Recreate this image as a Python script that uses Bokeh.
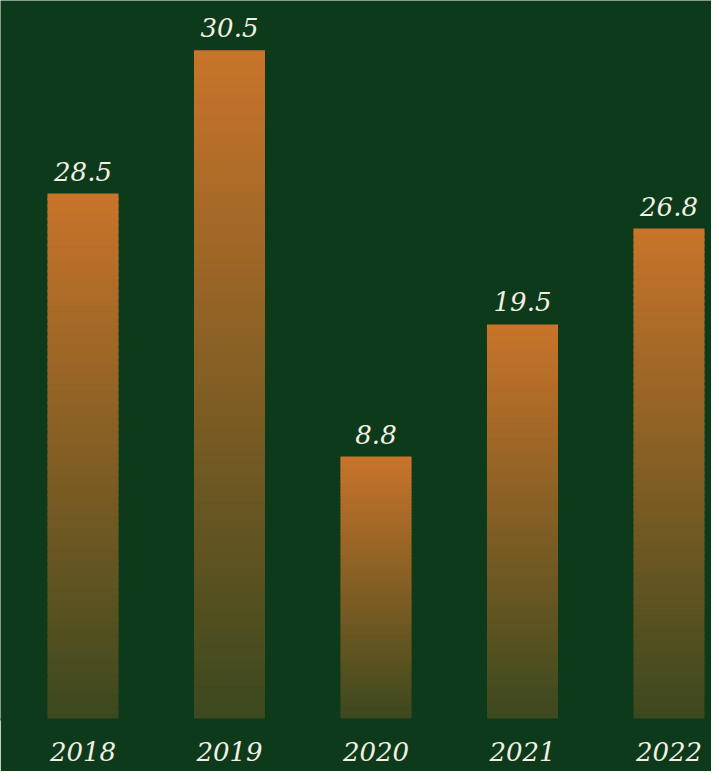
from bokeh.plotting import figure
from bokeh.models import Range1d, FixedTicker, ColumnDataSource
from bokeh.core.properties import value
from bokeh.embed import file_html
from bokeh.resources import INLINE

# ---- data ----
years = ["2018", "2019", "2020", "2021", "2022"]
bar_heights = [20.0, 25.45, 10.0, 15.02, 18.67]
value_labels = ["28.5", "30.5", "8.8", "19.5", "26.8"]

# ---- style ----
BG = (12, 58, 26)
BG_HEX = "#0c3a1a"
ORANGE = (201, 116, 42)
TEXT = "#f4efe4"
FONT = "DejaVu Serif"

xs = list(range(len(years)))
bar_w = 0.485

p = figure(width=711, height=771, output_backend="svg", toolbar_location=None,
           x_range=Range1d(-0.5631, 4.2901), y_range=Range1d(0, 27.34),
           min_border_left=0, min_border_right=0, min_border_top=0,
           min_border_bottom=52)
p.background_fill_color = BG_HEX
p.border_fill_color = BG_HEX
p.outline_line_color = None
p.grid.visible = False
p.yaxis.visible = False

# gradient bars: stacked slices, colour blended from orange (top) to faded (bottom)
N = 80
left, right, bottom, top, color = [], [], [], [], []
for x, h in zip(xs, bar_heights):
    for i in range(N):
        f0 = i / N
        f1 = (i + 1) / N
        alpha = 0.25 + 0.75 * ((f0 + f1) / 2)
        c = tuple(int(round(alpha * o + (1 - alpha) * b)) for o, b in zip(ORANGE, BG))
        left.append(x - bar_w / 2)
        right.append(x + bar_w / 2)
        bottom.append(h * f0)
        top.append(min(h, h * f1 + h * 0.004))
        color.append("#%02x%02x%02x" % c)
p.quad(left=left, right=right, bottom=bottom, top=top, fill_color=color,
       line_color=None)

src = ColumnDataSource(dict(x=xs, y=bar_heights, t=value_labels))
p.text(x="x", y="y", text="t", source=src, text_align="center",
       text_baseline="bottom", y_offset=-13, text_color=TEXT,
       text_font=value(FONT), text_font_style="italic", text_font_size="26px")

p.xaxis.ticker = FixedTicker(ticks=xs)
p.xaxis.major_label_overrides = {x: y for x, y in zip(xs, years)}
p.xaxis.axis_line_color = BG_HEX
p.xaxis.axis_line_width = 2
p.xaxis.major_tick_line_color = None
p.xaxis.minor_tick_line_color = None
p.xaxis.major_label_text_font = FONT
p.xaxis.major_label_text_font_style = "italic"
p.xaxis.major_label_text_font_size = "26px"
p.xaxis.major_label_text_color = TEXT
p.xaxis.major_label_standoff = 16

open("out.html", "w").write(file_html(p, INLINE))
